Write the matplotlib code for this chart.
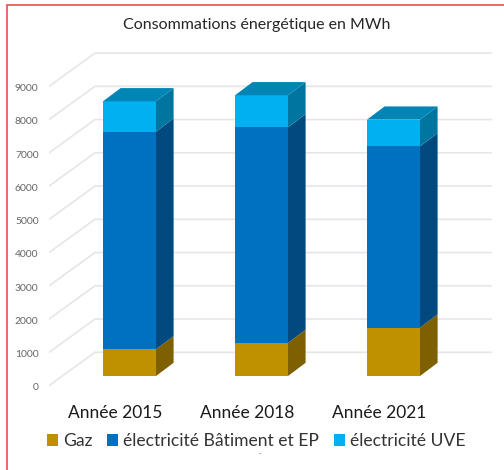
import numpy as np
import matplotlib
matplotlib.use('Agg')
import matplotlib.pyplot as plt
from matplotlib.lines import Line2D
from matplotlib.patches import Patch, Polygon
from matplotlib.transforms import ScaledTranslation

plt.rcParams['font.family'] = ['Lato', 'DejaVu Sans']

years = ['Année 2015', 'Année 2018', 'Année 2021']
gaz = [804, 994, 1455]
elec_batiment = [6545, 6485, 5452]
elec_uve = [913, 964, 804]
y_ticks = [0, 1000, 2000, 3000, 4000, 5000, 6000, 7000, 8000, 9000]

series = [
    ('Gaz', gaz, '#BF9000', '#7F6000'),
    ('électricité Bâtiment et EP', elec_batiment, '#0070C0', '#004A7F'),
    ('électricité UVE', elec_uve, '#00B0F0', '#00759F'),
]
top_color = '#0085B5'

W, H = 504, 470
fig = plt.figure(figsize=(W / 100, H / 100), dpi=100)

# axes box in pixels, the scale is worked out from bar spacing and gridline spacing
px_x = 132.0
px_y = 33.25 / 1000
left, right, top, bottom = 49, 504, 30, 392
ax = fig.add_axes([left / W, 1 - bottom / H, (right - left) / W, (bottom - top) / H])
x0 = 129.5
y0 = 376
ax.set_xlim((left - x0) / px_x, (right - x0) / px_x)
ax.set_ylim((y0 - bottom) / px_y, (y0 - top) / px_y)

# fake 3d: oblique offsets
bar_w = 53 / px_x
depth_x = 17.6 / px_x
depth_y = 13.2 / px_y
front_y = (y0 - 385.6) / px_y
back_y = (y0 - 352.3) / px_y
front_x = (49 - x0) / px_x
back_x = (95 - x0) / px_x
end_x = (491 - x0) / px_x

grid_color = '#E6E6E6'
for v in y_ticks:
    ax.plot([front_x, back_x, end_x], [v + front_y, v + back_y, v + back_y],
            color=grid_color, lw=1.2, zorder=1, solid_joinstyle='miter')

x = np.arange(len(years))
base = np.zeros(len(years))
for name, vals, col, side in series:
    vals = np.array(vals)
    ax.bar(x, vals, bar_w, bottom=base, color=col, lw=0, zorder=3)
    for i in x:
        xr = i + bar_w / 2
        b, t = base[i], base[i] + vals[i]
        ax.add_patch(Polygon([[xr, b], [xr + depth_x, b + depth_y],
                              [xr + depth_x, t + depth_y], [xr, t]],
                             fc=side, lw=0, zorder=3))
    base = base + vals

for i in x:
    xl, xr = i - bar_w / 2, i + bar_w / 2
    t = base[i]
    ax.add_patch(Polygon([[xl, t], [xr, t], [xr + depth_x, t + depth_y],
                          [xl + depth_x, t + depth_y]],
                         fc=top_color, lw=0, zorder=3))

for s in ax.spines.values():
    s.set_visible(False)
ax.set_yticks(np.array(y_ticks) + front_y, [str(v) for v in y_ticks])
ax.set_xticks(x - 14 / px_x, years)
ax.tick_params(axis='y', length=0, pad=7.5, labelsize=7.5, labelcolor='#666666')
ax.tick_params(axis='x', length=0, pad=9.5, labelsize=12.5, labelcolor='#1A1A1A')
# tick labels sit a little below the gridline ends
for lab in ax.get_yticklabels():
    lab.set_transform(lab.get_transform() + ScaledTranslation(0, -1.2 / 100, fig.dpi_scale_trans))

fig.text(257 / W, 1 - 25.5 / H, 'Consommations énergétique en MWh', ha='center',
         va='center', fontsize=11.5, color='#262626')

handles = [Patch(fc=col, lw=0, label=name) for name, vals, col, side in series]
fig.legend(handles=handles, loc='center left', bbox_to_anchor=(47 / W, 1 - 441 / H),
           ncol=3, frameon=False, fontsize=12.6, labelcolor='#333333', borderpad=0,
           borderaxespad=0, handlelength=0.63, handleheight=0.63, handletextpad=0.28,
           columnspacing=0.85)

fig.text(260 / W, 1 - 454 / H, '-', ha='center', va='center', fontsize=5, color='#555555')

# red frame of the screenshot, top and left only
fig.add_artist(Line2D([6.5 / W, 6.5 / W, 1], [0, 1 - 5 / H, 1 - 5 / H],
                      color='#F04B4B', lw=1.2, solid_joinstyle='miter'))

fig.savefig('out.png', dpi=100)
